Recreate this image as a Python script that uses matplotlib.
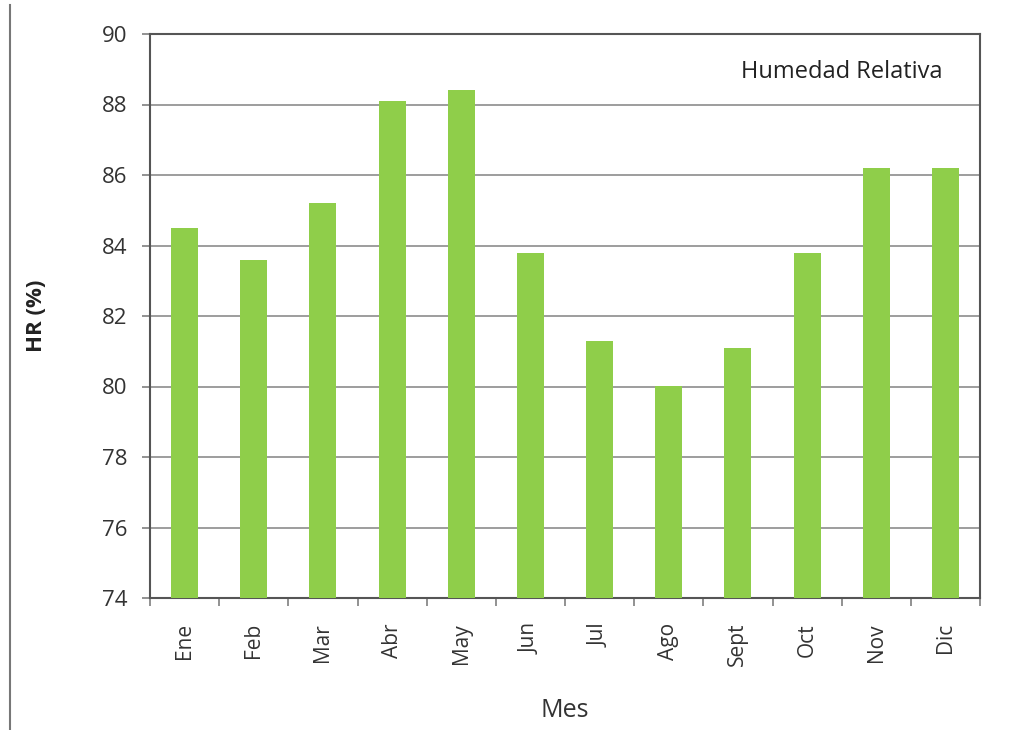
import matplotlib
matplotlib.use("Agg")
import matplotlib.pyplot as plt
from matplotlib.lines import Line2D

plt.rcParams['font.family'] = ['Open Sans', 'DejaVu Sans']

months = ["Ene", "Feb", "Mar", "Abr", "May", "Jun", "Jul", "Ago", "Sept", "Oct", "Nov", "Dic"]
hr_values = [84.5, 83.6, 85.2, 88.1, 88.4, 83.8, 81.3, 80.0, 81.1, 83.8, 86.2, 86.2]
y_ticks = [74, 76, 78, 80, 82, 84, 86, 88, 90]

fig = plt.figure(figsize=(10.21, 7.30), dpi=100)
ax = fig.add_axes([150/1021, 1 - 598/730, (980-150)/1021, (598-34)/730])

x = list(range(len(months)))
ax.bar(x, [v - 74 for v in hr_values], bottom=74, width=0.39, color="#8fce4a", zorder=3)

ax.set_xlim(-0.5, len(months) - 0.5)
ax.set_ylim(74, 90)
ax.set_yticks(y_ticks)
ax.set_yticklabels([str(t) for t in y_ticks], fontsize=16, color="#333333")
ax.yaxis.grid(True, color="#8c8c8c", linewidth=1.2, zorder=0)

ax.set_xticks(x)
ax.set_xticklabels(months, rotation=90, fontsize=15, color="#333333")
ax.tick_params(axis='x', length=0, pad=18)
ax.set_xticks([i - 0.5 for i in range(len(months) + 1)], minor=True)
ax.tick_params(axis='x', which='minor', length=6, color="#7f7f7f", width=1.2, direction='out')
ax.tick_params(axis='y', length=6, color="#7f7f7f", width=1.2, direction='out', pad=10)

for s in ax.spines.values():
    s.set_color("#555555")
    s.set_linewidth(1.5)

ax.set_ylabel("HR (%)", fontsize=16, fontweight='bold', color="#222222", labelpad=40)
ax.set_xlabel("Mes", fontsize=18, color="#333333", labelpad=23)

ax.text(0.834, 0.933, "Humedad Relativa", transform=ax.transAxes, ha='center', va='center',
        fontsize=17, color="#222222")

fig.add_artist(Line2D([10/1021, 10/1021], [0, 1 - 5/730], transform=fig.transFigure,
                      color="#777777", linewidth=1.5))

fig.savefig("out.png", dpi=100)
